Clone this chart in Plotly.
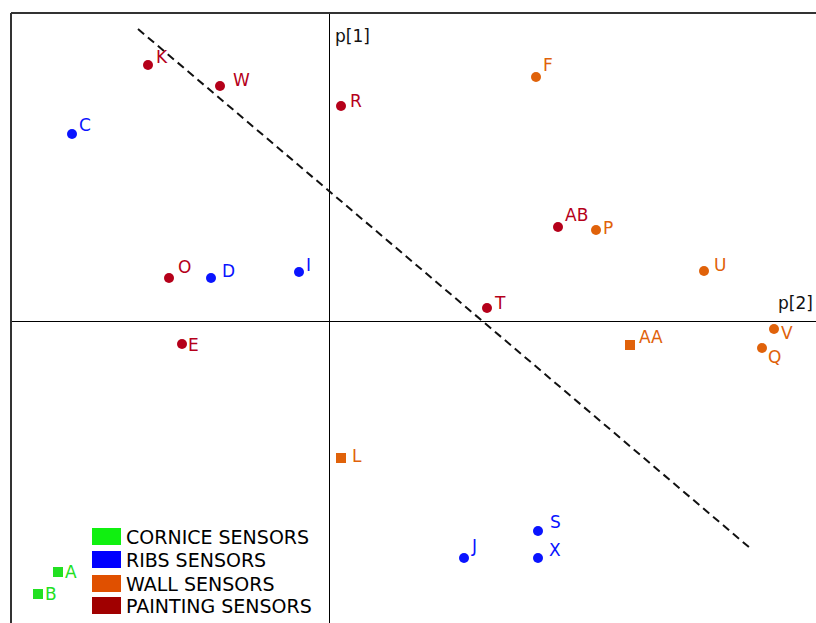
import plotly.graph_objects as go

# ---- data ----
labels = ["K", "W", "C", "R", "F", "AB", "P", "U", "O", "D", "I", "T",
          "E", "AA", "V", "Q", "L", "S", "J", "X", "A", "B"]
p2 = [-0.181, -0.109, -0.257, 0.012, 0.207, 0.229, 0.267, 0.375, -0.160, -0.118, -0.030, 0.158,
      -0.147, 0.301, 0.445, 0.433, 0.012, 0.209, 0.135, 0.209, -0.271, -0.291]
p1 = [0.256, 0.235, 0.187, 0.215, 0.244, 0.094, 0.091, 0.050, 0.043, 0.043, 0.049, 0.013,
      -0.023, -0.024, -0.008, -0.027, -0.137, -0.210, -0.237, -0.237, -0.251, -0.273]
groups = ["PAINTING", "PAINTING", "RIBS", "PAINTING", "WALL", "PAINTING", "WALL", "WALL",
          "PAINTING", "RIBS", "RIBS", "PAINTING", "PAINTING", "WALL", "WALL", "WALL",
          "WALL", "RIBS", "RIBS", "RIBS", "CORNICE", "CORNICE"]
legend_names = ["CORNICE SENSORS", "RIBS SENSORS", "WALL SENSORS", "PAINTING SENSORS"]
divider_p2 = [-0.191, 0.421]
divider_p1 = [0.292, -0.227]

# ---- style ----
W, H = 816, 623
ML, MT = 11, 13
FONT = "DejaVu Sans"
point_color = {"CORNICE": "#22E022", "RIBS": "#0A14FF", "WALL": "#E0620A", "PAINTING": "#B5001A"}
legend_color = ["#10F010", "#0000FF", "#E05000", "#A00000"]
square_pts = {"AA", "L", "A", "B"}
# label offsets in px (dx right, dy down) relative to marker centre
label_off = {"K": (7, -8), "W": (12, -6), "C": (6, -9), "R": (8, -5), "F": (6, -12),
             "AB": (6, -12), "P": (6, -2), "U": (9, -6), "O": (8, -11), "D": (10, -7),
             "I": (6, -7), "T": (6, -5), "E": (5, 1), "AA": (8, -8), "V": (6, 4),
             "Q": (5, 9), "L": (10, -2), "S": (11, -9), "J": (6, -12), "X": (10, -8),
             "A": (6, 0), "B": (6, 0)}

fig = go.Figure()

fig.add_trace(go.Scatter(x=divider_p2, y=divider_p1, mode="lines",
                         line=dict(color="#111111", width=2, dash="8px,5px"),
                         hoverinfo="skip", showlegend=False))

fig.add_trace(go.Scatter(
    x=p2, y=p1, mode="markers", showlegend=False,
    text=labels,
    marker=dict(size=10,
                color=[point_color[g] for g in groups],
                symbol=["square" if l in square_pts else "circle" for l in labels],
                line=dict(width=0))))

annotations = []
for lab, x, y, g in zip(labels, p2, p1, groups):
    dx, dy = label_off[lab]
    annotations.append(dict(x=x, y=y, xref="x", yref="y", text=lab, showarrow=False,
                            xanchor="left", yanchor="middle", xshift=dx - 1, yshift=-dy,
                            font=dict(family=FONT, size=17, color=point_color[g])))

pw, ph = W - ML, H - MT
def px_x(px):
    return (px - ML) / pw
def px_y(py):
    return (H - py) / ph

# axis names
annotations.append(dict(x=px_x(333), y=px_y(36), xref="paper", yref="paper", text="p[1]",
                        showarrow=False, xanchor="left", yanchor="middle",
                        font=dict(family=FONT, size=17, color="#111111")))
annotations.append(dict(x=px_x(815), y=px_y(303), xref="paper", yref="paper", text="p[2]",
                        showarrow=False, xanchor="right", yanchor="middle",
                        font=dict(family=FONT, size=17, color="#111111")))

shapes = [
    dict(type="line", xref="paper", yref="paper", x0=0, x1=1, y0=1, y1=1,
         line=dict(color="#333333", width=2)),
    dict(type="line", xref="paper", yref="paper", x0=0, x1=0, y0=0, y1=1,
         line=dict(color="#333333", width=2)),
]

row_tops = [528, 551, 575, 597]
for name, col, top in zip(legend_names, legend_color, row_tops):
    shapes.append(dict(type="rect", xref="paper", yref="paper",
                       x0=px_x(92), x1=px_x(121), y0=px_y(top + 17), y1=px_y(top),
                       fillcolor=col, line=dict(width=0)))
    annotations.append(dict(x=px_x(124), y=px_y(top + 9), xref="paper", yref="paper",
                            text=name, showarrow=False, xanchor="left", yanchor="middle",
                            font=dict(family=FONT, size=19, color="#000000")))

x0px = 329
y0px = 321
fig.update_layout(
    width=W, height=H,
    margin=dict(l=ML, r=0, t=MT, b=0, pad=0),
    paper_bgcolor="white", plot_bgcolor="white",
    xaxis=dict(range=[(ML - x0px) / 1000, (W - x0px) / 1000], showgrid=False,
               zeroline=True, zerolinecolor="#000000", zerolinewidth=1,
               showticklabels=False, ticks="", showline=False),
    yaxis=dict(range=[(y0px - H) / 1000, (y0px - MT) / 1000], showgrid=False,
               zeroline=True, zerolinecolor="#000000", zerolinewidth=1,
               showticklabels=False, ticks="", showline=False),
    shapes=shapes, annotations=annotations, showlegend=False,
)

fig.write_html("out.html", config={"displayModeBar": False},
               post_script="document.body.style.margin='0';document.body.style.overflow='hidden';")
